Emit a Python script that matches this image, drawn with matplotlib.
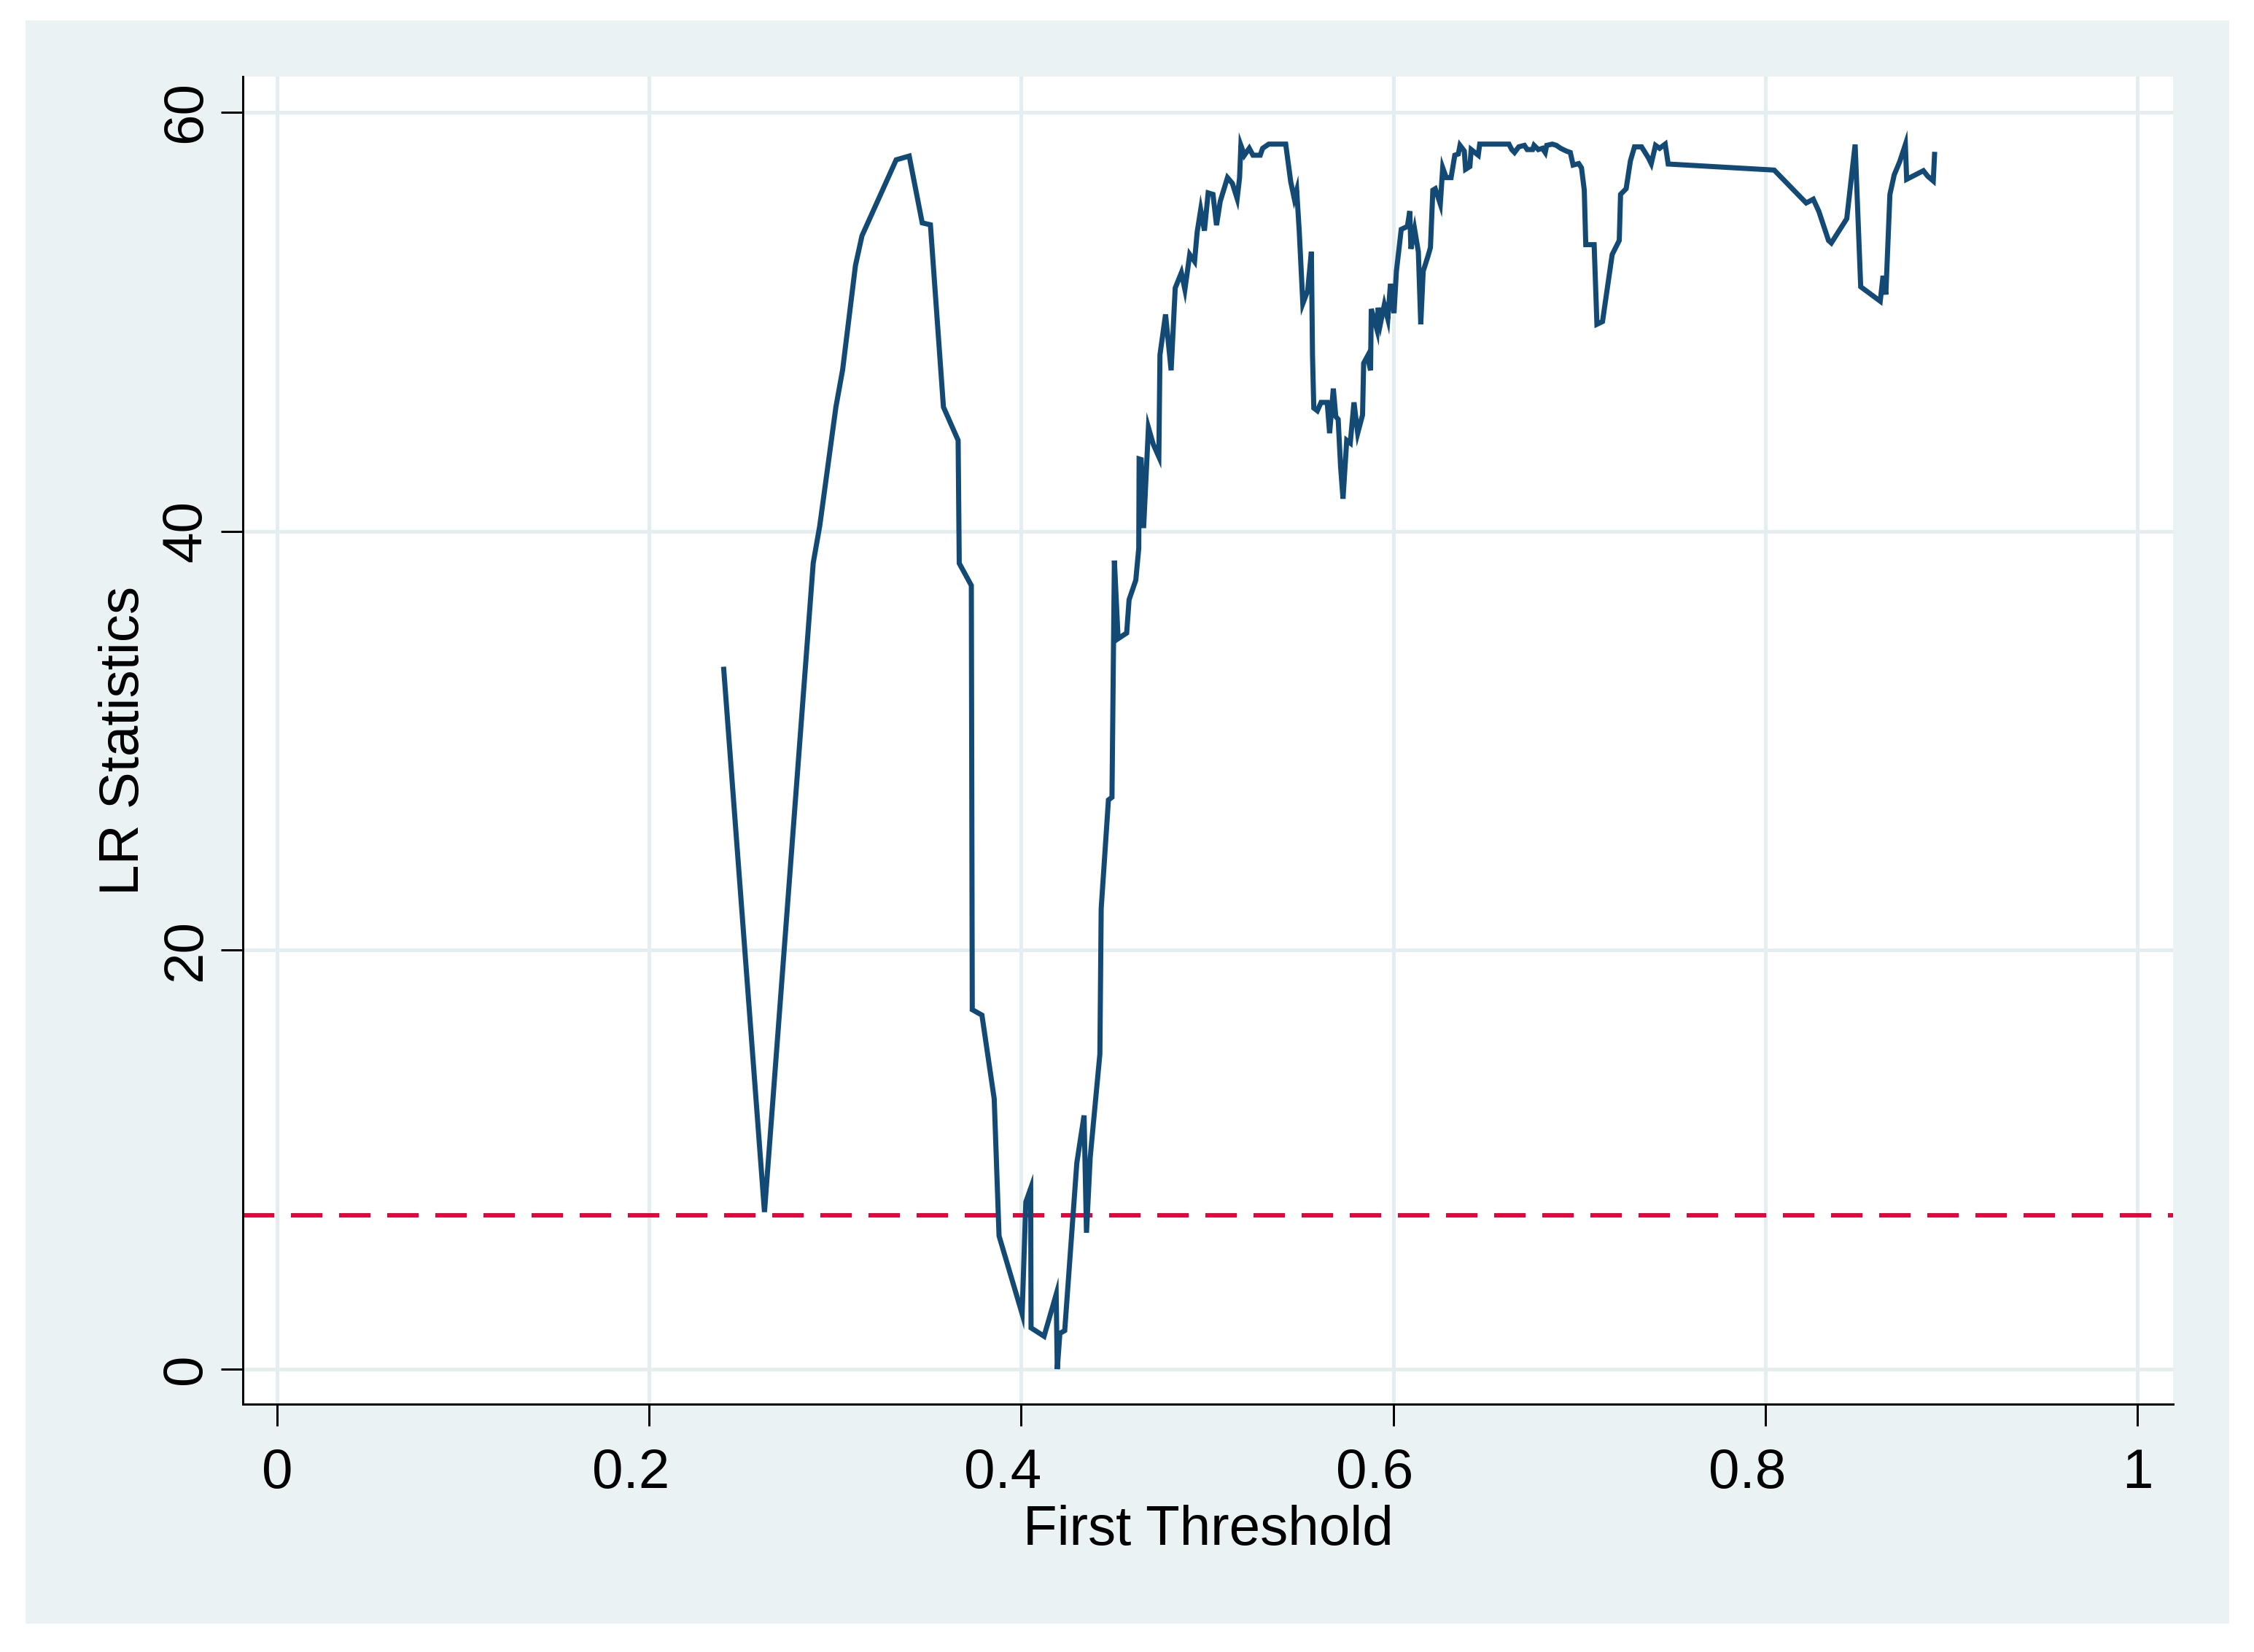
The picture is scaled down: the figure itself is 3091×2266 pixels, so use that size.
import matplotlib
matplotlib.use("Agg")
import matplotlib.pyplot as plt
import matplotlib.transforms as mtransforms
from matplotlib.patches import Rectangle

plt.rcParams['font.family'] = ['Liberation Sans', 'DejaVu Sans']

# ---- data ----
threshold = [
    0.2401, 0.2620, 0.2882, 0.2917, 0.3004, 0.3040, 0.3109, 0.3144, 0.3328, 0.3398,
    0.3468, 0.3512, 0.3582, 0.3661, 0.3667, 0.3732, 0.3737, 0.3789, 0.3855, 0.3881,
    0.4005, 0.4025, 0.4051, 0.4053, 0.4123, 0.4188, 0.4194, 0.4208, 0.4234, 0.4299,
    0.4338, 0.4351, 0.4371, 0.4423, 0.4430, 0.4469, 0.4488, 0.4501, 0.4521, 0.4567,
    0.4580, 0.4616, 0.4632, 0.4634, 0.4645, 0.4658, 0.4684, 0.4710, 0.4740, 0.4746,
    0.4776, 0.4806, 0.4828, 0.4861, 0.4880, 0.4906, 0.4932, 0.4946, 0.4965, 0.4985,
    0.5005, 0.5031, 0.5050, 0.5070, 0.5109, 0.5135, 0.5161, 0.5174, 0.5181, 0.5200,
    0.5226, 0.5246, 0.5285, 0.5298, 0.5331, 0.5422, 0.5435, 0.5449, 0.5468, 0.5481,
    0.5495, 0.5514, 0.5540, 0.5560, 0.5566, 0.5573, 0.5592, 0.5612, 0.5645, 0.5658,
    0.5678, 0.5691, 0.5704, 0.5717, 0.5730, 0.5750, 0.5769, 0.5789, 0.5809, 0.5835,
    0.5841, 0.5861, 0.5878, 0.5882, 0.5913, 0.5919, 0.5932, 0.5952, 0.5971, 0.5985,
    0.6004, 0.6017, 0.6043, 0.6076, 0.6089, 0.6095, 0.6115, 0.6135, 0.6148, 0.6161,
    0.6187, 0.6200, 0.6213, 0.6226, 0.6253, 0.6266, 0.6285, 0.6311, 0.6331, 0.6350,
    0.6359, 0.6382, 0.6389, 0.6412, 0.6419, 0.6457, 0.6465, 0.6622, 0.6637, 0.6652,
    0.6675, 0.6705, 0.6720, 0.6749, 0.6757, 0.6780, 0.6802, 0.6817, 0.6825, 0.6855,
    0.6877, 0.6900, 0.6930, 0.6952, 0.6967, 0.6997, 0.7012, 0.7027, 0.7035, 0.7080,
    0.7095, 0.7125, 0.7177, 0.7215, 0.7222, 0.7252, 0.7275, 0.7297, 0.7335, 0.7372,
    0.7387, 0.7410, 0.7432, 0.7462, 0.7478, 0.8048, 0.8220, 0.8258, 0.8288, 0.8340,
    0.8355, 0.8438, 0.8483, 0.8513, 0.8618, 0.8633, 0.8648, 0.8670, 0.8693, 0.8723,
    0.8753, 0.8760, 0.8850, 0.8873, 0.8903, 0.8910,
]
lr_stat = [
    33.41, 7.50, 38.48, 40.25, 45.93, 47.70, 52.68, 54.10, 57.73, 57.91,
    54.72, 54.63, 45.93, 44.34, 38.47, 37.41, 17.16, 16.90, 12.90, 6.36,
    2.64, 7.98, 8.63, 1.97, 1.57, 3.57, 0.00, 1.71, 1.84, 9.84,
    12.11, 6.51, 10.11, 15.04, 21.98, 27.17, 27.30, 38.60, 34.87, 35.14,
    36.73, 37.66, 39.18, 43.45, 43.42, 40.15, 44.95, 44.15, 43.55, 48.42,
    50.35, 47.68, 51.61, 52.34, 51.54, 53.21, 52.88, 54.28, 55.35, 54.35,
    56.15, 56.08, 54.61, 55.75, 56.88, 56.61, 55.88, 56.88, 58.42, 57.95,
    58.28, 57.95, 57.95, 58.28, 58.48, 58.48, 57.62, 56.68, 55.88, 56.28,
    54.28, 50.87, 51.48, 53.34, 48.42, 45.88, 45.75, 46.15, 46.15, 44.68,
    46.81, 45.48, 45.34, 43.08, 41.55, 44.34, 44.21, 46.15, 44.68, 45.55,
    48.02, 48.35, 47.68, 50.61, 49.61, 50.67, 49.94, 50.81, 50.14, 51.81,
    50.41, 52.41, 54.41, 54.55, 55.28, 53.48, 54.41, 53.34, 49.88, 52.41,
    53.14, 53.54, 56.28, 56.35, 55.62, 57.35, 56.88, 56.88, 57.95, 58.01,
    58.42, 58.15, 57.28, 57.41, 58.22, 57.95, 58.48, 58.48, 58.22, 58.08,
    58.35, 58.42, 58.22, 58.22, 58.42, 58.22, 58.28, 58.08, 58.42, 58.48,
    58.42, 58.28, 58.15, 58.08, 57.48, 57.55, 57.35, 56.28, 53.68, 53.68,
    49.88, 50.01, 53.21, 53.88, 56.08, 56.35, 57.68, 58.35, 58.35, 57.82,
    57.55, 58.42, 58.28, 58.48, 57.53, 57.24, 55.67, 55.85, 55.27, 53.88,
    53.76, 54.92, 58.46, 51.67, 50.98, 52.19, 51.30, 56.08, 57.01, 57.65,
    58.46, 56.80, 57.21, 56.95, 56.72, 57.99,
]
critical_value = 7.35
x_ticks = [0, 0.2, 0.4, 0.6, 0.8, 1]
x_tick_labels = ["0", "0.2", "0.4", "0.6", "0.8", "1"]
y_ticks = [0, 20, 40, 60]
y_tick_labels = ["0", "20", "40", "60"]
x_title = "First Threshold"
y_title = "LR Statistics"

# ---- layout (pixels of a 3091x2266 canvas) ----
W, H = 3091, 2266
DPI = 100
PX = 72.0 / DPI  # points per pixel

fig = plt.figure(figsize=(W / DPI, H / DPI), dpi=DPI, facecolor='white')
fig.patches.append(Rectangle((35 / W, 1 - 2227 / H), (3057 - 35) / W, (2227 - 28) / H,
                             transform=fig.transFigure, facecolor='#eaf2f3',
                             edgecolor='none', zorder=-10))

left, right, top, bottom = 333, 2980, 105, 1926
ax = fig.add_axes([left / W, 1 - bottom / H, (right - left) / W, (bottom - top) / H])
ax.set_zorder(5)
ax.set_facecolor('white')

x0_px, x1_px = 380, 2931
y0_px, y60_px = 1878, 154
xs = (x1_px - x0_px)
ys = (y0_px - y60_px) / 60.0
ax.set_xlim((left - x0_px) / xs, (right - x0_px) / xs)
ax.set_ylim((y0_px - bottom) / ys, (y0_px - top) / ys)

ax.grid(True, color='#e4edf0', linewidth=5 * PX)
ax.set_axisbelow(True)

ax.axhline(critical_value, color='#e2063f', linewidth=6 * PX,
           linestyle=(0, (7.2, 3.8)), dash_capstyle='butt', zorder=2)
ax.plot(threshold, lr_stat, color='#124a75', linewidth=7 * PX, zorder=3,
        solid_joinstyle='miter')

for s in ['top', 'right']:
    ax.spines[s].set_visible(False)
for s in ['left', 'bottom']:
    ax.spines[s].set_linewidth(3 * PX)
    ax.spines[s].set_color('black')

fs = 55
ax.set_xticks(x_ticks)
ax.set_xticklabels(x_tick_labels, fontsize=fs)
ax.set_yticks(y_ticks)
ax.set_yticklabels(y_tick_labels, fontsize=fs, rotation=90, va='center')
ax.tick_params(axis='both', direction='out', length=30 * PX, width=3 * PX, color='black')
ax.tick_params(axis='x', pad=30 * PX)
ax.tick_params(axis='y', pad=12 * PX)

# decimal labels sit slightly left of their ticks in the reference
shift = mtransforms.ScaledTranslation(-25 / DPI, 0, fig.dpi_scale_trans)
for lab in ax.get_xticklabels():
    if '.' in lab.get_text():
        lab.set_transform(lab.get_transform() + shift)

ax.set_xlabel(x_title, fontsize=fs, va='baseline')
ax.xaxis.set_label_coords(0.5, (bottom - 2119) / (bottom - top))
ax.set_ylabel(y_title, fontsize=fs, va='baseline')
ax.yaxis.set_label_coords((190 - left) / (right - left), 0.5)

fig.savefig('out.png', dpi=DPI, facecolor='white')
